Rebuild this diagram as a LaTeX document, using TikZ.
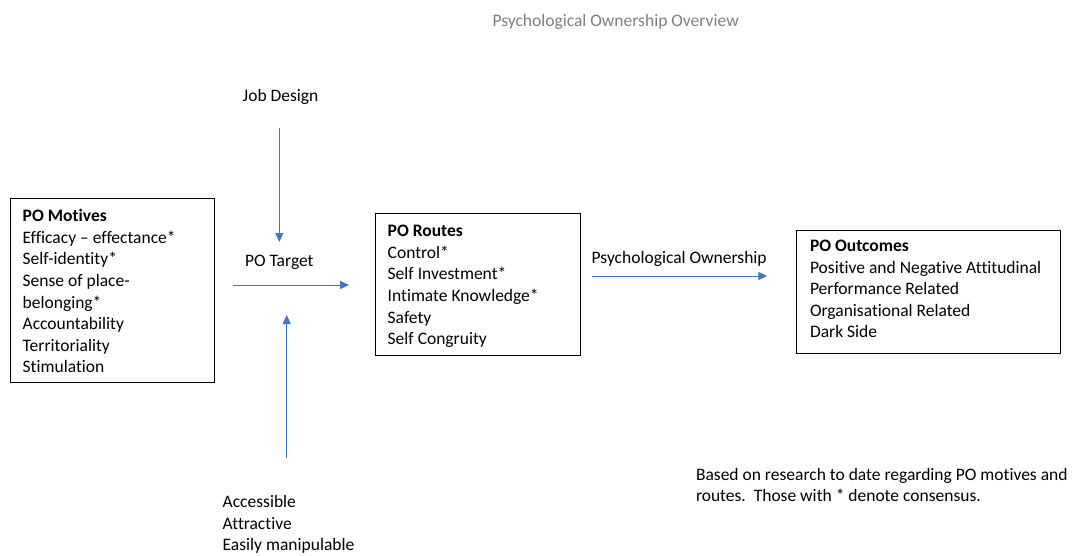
\documentclass[tikz,border=0pt]{standalone}
\usepackage{fontspec}
\setmainfont{Carlito}[Ligatures={NoCommon}]
\usetikzlibrary{arrows.meta}
\definecolor{linkblue}{RGB}{68,114,196}
\definecolor{titlegray}{RGB}{128,128,128}
\begin{document}
\begin{tikzpicture}[x=1pt,y=-1pt,
  every node/.style={inner sep=0pt, outer sep=0pt, font=\fontsize{17.5}{21.6}\selectfont},
  txt/.style={anchor=base west, align=left},
  panel/.style={draw=black, line width=0.9pt, anchor=north west, rectangle},
  link/.style={draw=linkblue, line width=1pt, -{Triangle[length=9pt,width=8pt]}}]
  \useasboundingbox[fill=white] (0,0) rectangle (1077,555);

  % title
  \node[txt, text=titlegray] (title) at (492.5,26) {Psychological Ownership Overview};

  % three panels
  \node[panel, minimum width=204.5pt, minimum height=184.5pt] (motives) at (10,198.3) {};
  \node[panel, minimum width=204.5pt, minimum height=141.5pt] (routes) at (375.7,213.5) {};
  \node[panel, minimum width=264pt, minimum height=123.5pt] (outcomes) at (796.7,230) {};

  % multi-line texts are placed by the baseline of their last line
  \node[txt] (motivestext) at (22.7,372.9) {\textbf{PO Motives}\\Efficacy – effectance*\\Self-identity*\\Sense of place-\\belonging*\\Accountability\\Territoriality\\Stimulation};
  \node[txt] (routestext) at (387.7,344.7) {\textbf{PO Routes}\\Control*\\Self Investment*\\Intimate Knowledge*\\Safety\\Self Congruity};
  \node[txt] (outcomestext) at (810,337.9) {\textbf{PO Outcomes}\\Positive and Negative Attitudinal\\Performance Related\\Organisational Related\\Dark Side};

  % free-standing labels
  \node[txt] (jobdesign) at (242.7,101) {Job Design};
  \node[txt] (target) at (245,266) {PO Target};
  \node[txt] (pslabel) at (591.7,263.3) {Psychological Ownership};
  \node[txt] (traits) at (222.7,550.7) {Accessible\\Attractive\\Easily manipulable};
  \node[txt] (note) at (696,501.6) {Based on research to date regarding PO motives and\\routes.\ \ Those with * denote consensus.};

  % arrow end points
  \coordinate (jd-a) at (279.3,128.3);
  \coordinate (jd-b) at (279.3,242);
  \coordinate (tg-a) at (233.3,285);
  \coordinate (tg-b) at (349,285);
  \coordinate (tr-a) at (286.7,458.3);
  \coordinate (tr-b) at (286.7,315);
  \coordinate (ps-a) at (591.7,276);
  \coordinate (ps-b) at (767.3,276);

  \draw[link] (jd-a) -- (jd-b);
  \draw[link] (tg-a) -- (tg-b);
  \draw[link] (tr-a) -- (tr-b);
  \draw[link] (ps-a) -- (ps-b);
\end{tikzpicture}
\end{document}
